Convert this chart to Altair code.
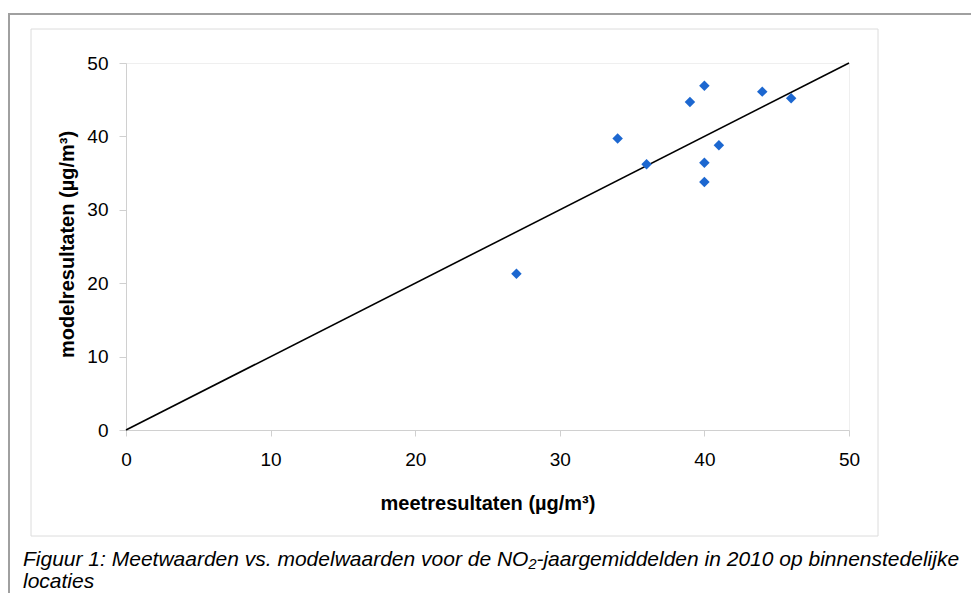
import altair as alt
import pandas as pd

# Measured values (µg/m³)
meet = [27, 34, 36, 39, 40, 40, 40, 41, 44, 46]
model = [21.3, 39.7, 36.2, 44.7, 46.9, 36.4, 33.8, 38.8, 46.1, 45.2]

# 1:1 reference line
line_x = [0, 50]
line_y = [0, 50]

x_ticks = [0, 10, 20, 30, 40, 50]
y_ticks = [0, 10, 20, 30, 40, 50]

x_title = "meetresultaten (µg/m³)"
y_title = "modelresultaten (µg/m³)"
caption = ["Figuur 1: Meetwaarden vs. modelwaarden voor de NO₂-jaargemiddelden in 2010 op binnenstedelijke",
           "locaties"]

FONT = "Liberation Sans"
AX = "#d0d0d0"

pts = pd.DataFrame({"meet": meet, "model": model})
ln = pd.DataFrame({"meet": line_x, "model": line_y})

xs = alt.Scale(domain=[0, 50], nice=False, zero=False)
ys = alt.Scale(domain=[0, 50], nice=False, zero=False)

x_axis = alt.Axis(values=x_ticks, grid=False, domainColor=AX, tickColor=AX, tickSize=6,
                  labelFont=FONT, labelFontSize=19, labelColor="#000", labelPadding=14,
                  labelFlush=False, labelOverlap=False,
                  title=x_title, titleFont=FONT, titleFontSize=20, titleFontWeight="bold",
                  titleColor="#000", titleY=73, titleBaseline="middle")
y_axis = alt.Axis(values=y_ticks, grid=False, domainColor=AX, tickColor=AX, tickSize=7,
                  labelFont=FONT, labelFontSize=19, labelColor="#000", labelPadding=11,
                  labelFlush=False, labelOverlap=False,
                  title=y_title, titleFont=FONT, titleFontSize=20, titleFontWeight="bold",
                  titleColor="#000", titleX=-59, titleY=181, titleBaseline="middle")

one = alt.Data(values=[{}])

outer = alt.Chart(one).mark_rect(fill="white", fillOpacity=0, stroke="#a0a0a0", strokeWidth=2, clip=False).encode(
    x=alt.value(-117), x2=alt.value(1000), y=alt.value(-49), y2=alt.value(700))
inner = alt.Chart(one).mark_rect(fill="white", fillOpacity=0, stroke="#dcdcdc", strokeWidth=1, clip=False).encode(
    x=alt.value(-95), x2=alt.value(752), y=alt.value(-34), y2=alt.value(473))

cap = alt.Chart(alt.Data(values=[{"t": "\n".join(caption)}])).mark_text(
    font=FONT, fontSize=21, fontStyle="italic", align="left", baseline="alphabetic",
    lineBreak="\n", lineHeight=22, color="#000", clip=False).encode(
    x=alt.value(-103), y=alt.value(503), text="t:N")

line = alt.Chart(ln).mark_line(color="black", strokeWidth=1.6).encode(
    x=alt.X("meet:Q", scale=xs, axis=x_axis),
    y=alt.Y("model:Q", scale=ys, axis=y_axis))

points = alt.Chart(pts).mark_point(shape="diamond", filled=True, size=110, color="#1c67d0", opacity=1).encode(
    x=alt.X("meet:Q", scale=xs),
    y=alt.Y("model:Q", scale=ys))

chart = alt.layer(outer, inner, line, points, cap).properties(
    width=723, height=367,
    autosize=alt.AutoSizeParams(type="none"),
    padding={"left": 118, "top": 55, "right": 122, "bottom": 163},
    background="white",
).configure_view(stroke="#efefef")

chart.save("out.html", embed_options={"renderer": "svg", "actions": False})
